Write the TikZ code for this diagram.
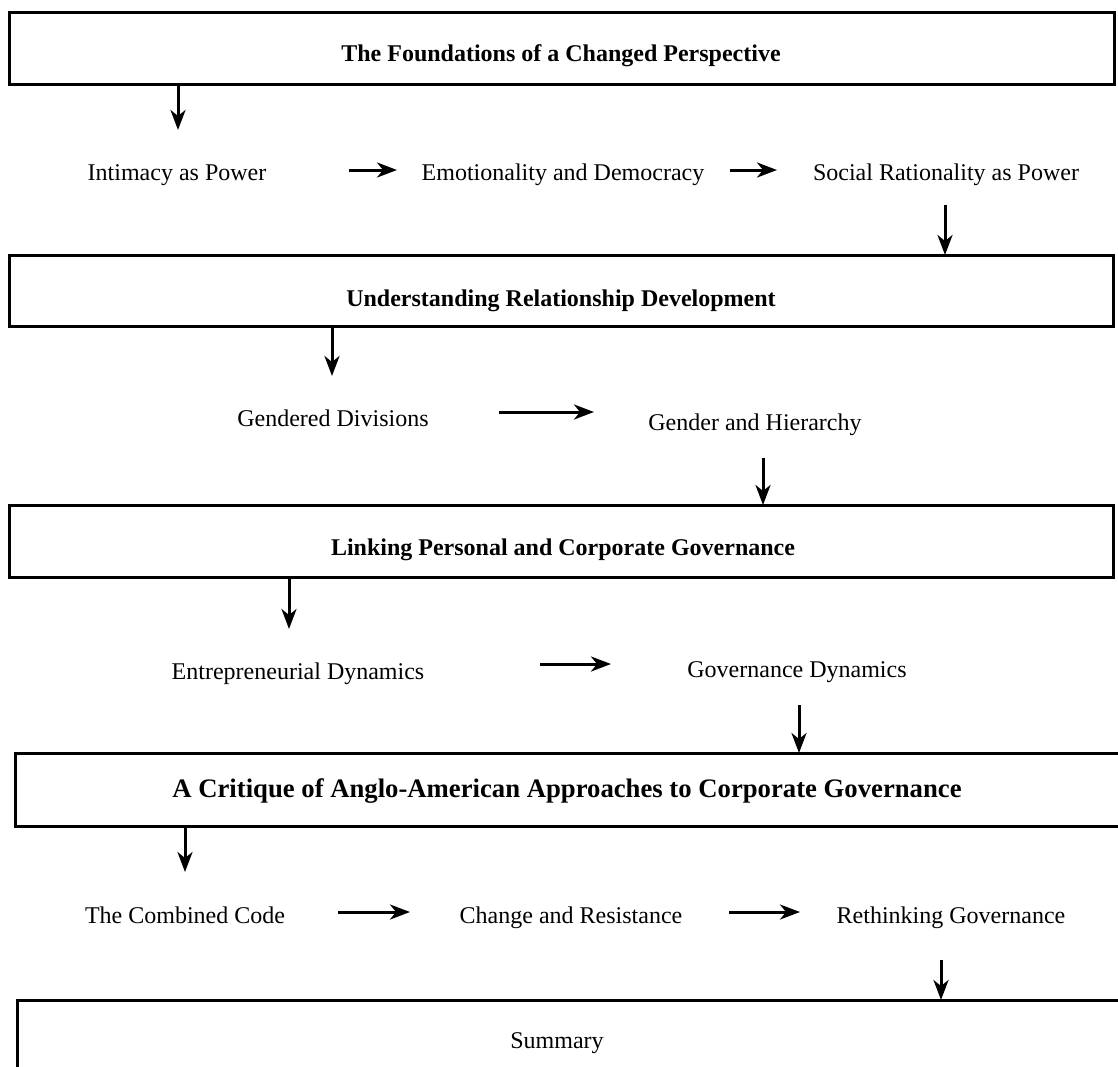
\documentclass[tikz,border=0pt]{standalone}
\usepackage{fontspec}
\setmainfont{Liberation Serif}
\usetikzlibrary{arrows.meta}
\begin{document}
\begin{tikzpicture}[x=1pt,y=-1pt,
  panel/.style={draw=black,line width=3pt},
  title/.style={inner sep=0pt,anchor=base,font=\fontsize{24}{28}\selectfont\bfseries},
  bigtitle/.style={inner sep=0pt,anchor=base,font=\fontsize{26.7}{30}\selectfont\bfseries},
  item/.style={inner sep=0pt,anchor=base,font=\fontsize{24}{28}\selectfont},
  arr/.style={line width=3pt,-{Stealth[length=20pt,width=15pt,inset=6pt]}}]
\clip (0,0) rectangle (1118,1066);
\fill[white] (0,0) rectangle (1118,1066);

% section panels
\draw[panel] (9,12) rectangle (1114,84);
\draw[panel] (9,255) rectangle (1113,326);
\draw[panel] (9,505) rectangle (1113,577);
\draw[panel] (15,753) rectangle (1135,826);
\draw[panel] (17,1000) rectangle (1135,1090);
\coordinate (b1s) at (561,84);
\coordinate (b2n) at (561,255);
\coordinate (b2s) at (561,326);
\coordinate (b3n) at (561,505);
\coordinate (b3s) at (561,577);
\coordinate (b4n) at (561,753);
\coordinate (b4s) at (561,826);
\coordinate (b5n) at (561,1000);

\node[title] (p1) at (561,61) {The Foundations of a Changed Perspective};
\node[title] (p2) at (561,306) {Understanding Relationship Development};
\node[title] (p3) at (563,555) {Linking Personal and Corporate Governance};
\node[bigtitle] (p4) at (567,797) {A Critique of Anglo-American Approaches to Corporate Governance};
\node[item] (p5) at (557,1048) {Summary};

% row 1
\node[item] (i11) at (177,180) {Intimacy as Power};
\node[item] (i12) at (563,180) {Emotionality and Democracy};
\node[item] (i13) at (946,180) {Social Rationality as Power};
% row 2
\node[item] (i21) at (333,426) {Gendered Divisions};
\node[item] (i22) at (755,430) {Gender and Hierarchy};
% row 3
\node[item] (i31) at (298,679) {Entrepreneurial Dynamics};
\node[item] (i32) at (797,677) {Governance Dynamics};
% row 4
\node[item] (i41) at (185,923) {The Combined Code};
\node[item] (i42) at (571,923) {Change and Resistance};
\node[item] (i43) at (951,923) {Rethinking Governance};

% arrow ends
\coordinate (v1) at (178,130);
\coordinate (v2) at (945,205);
\coordinate (v3) at (332,376);
\coordinate (v4) at (763,458);
\coordinate (v5) at (289,629);
\coordinate (v6) at (799,705);
\coordinate (v7) at (185,872);
\coordinate (v8) at (941,960);

\coordinate (h1a) at (349,170); \coordinate (h1b) at (397,170);
\coordinate (h2a) at (730,170); \coordinate (h2b) at (777,170);
\coordinate (h3a) at (499,412); \coordinate (h3b) at (594,412);
\coordinate (h4a) at (540,664); \coordinate (h4b) at (611,664);
\coordinate (h5a) at (338,912); \coordinate (h5b) at (410,912);
\coordinate (h6a) at (729,912); \coordinate (h6b) at (800,912);

% vertical connectors
\draw[arr] (b1s -| v1) -- (v1);
\draw[arr] (v2) -- (v2 |- b2n);
\draw[arr] (b2s -| v3) -- (v3);
\draw[arr] (v4) -- (v4 |- b3n);
\draw[arr] (b3s -| v5) -- (v5);
\draw[arr] (v6) -- (v6 |- b4n);
\draw[arr] (b4s -| v7) -- (v7);
\draw[arr] (v8) -- (v8 |- b5n);

% horizontal connectors
\draw[arr] (h1a) -- (h1b);
\draw[arr] (h2a) -- (h2b);
\draw[arr] (h3a) -- (h3b);
\draw[arr] (h4a) -- (h4b);
\draw[arr] (h5a) -- (h5b);
\draw[arr] (h6a) -- (h6b);
\end{tikzpicture}
\end{document}
